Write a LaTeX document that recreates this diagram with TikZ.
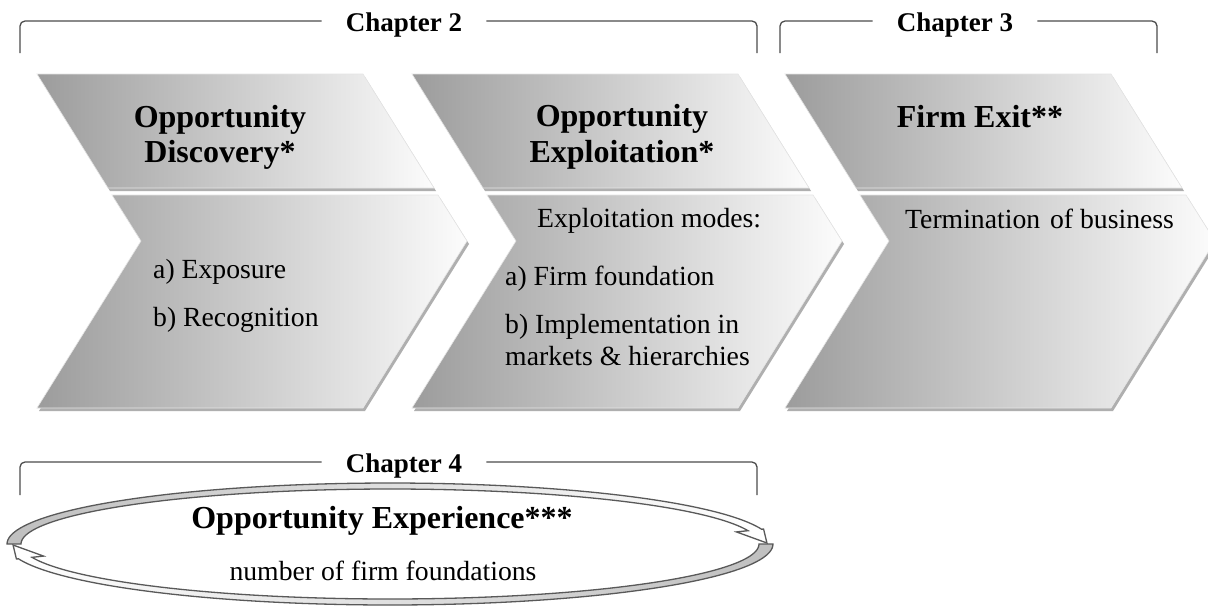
\documentclass[tikz,border=0pt]{standalone}
\usepackage{fontspec}
\setmainfont{Liberation Serif}
\definecolor{gL}{RGB}{156,156,156}
\definecolor{gR}{RGB}{252,252,252}
\definecolor{shd}{RGB}{175,175,175}
\tikzset{
  hdr/.style={font=\fontsize{32}{36}\selectfont\bfseries, anchor=base, inner sep=0pt},
  bodytxt/.style={font=\fontsize{27.7}{32}\selectfont, anchor=base west, inner sep=0pt},
  ctrtxt/.style={font=\fontsize{27.7}{32}\selectfont, anchor=base, inner sep=0pt},
  chap/.style={font=\fontsize{27}{32}\selectfont\bfseries, text height=20pt, text depth=0pt, inner xsep=24pt, inner ysep=0pt},
  brk/.style={draw=black!70, line width=1.3pt, rounded corners=5pt},
  chevfill/.style={left color=gL, right color=gR, draw=gray!20, line width=0.6pt},
  chevshadow/.style={fill=shd, shift={(2,3)}},
  arrA/.style={left color=gray!50, right color=white, draw=black!65, line width=1.3pt},
  arrB/.style={left color=white, right color=gray!50, draw=black!65, line width=1.3pt},
}
\newcommand\mychevron[1]{%
  \path[chevshadow] (#1,74) -- ({#1+326},74) -- ({#1+397},188) -- ({#1+71},188) -- cycle;
  \path[chevshadow] ({#1+75},195) -- ({#1+401},195) -- ({#1+430},241) -- ({#1+326},408) -- (#1,408) -- ({#1+104},241) -- cycle;
  \path[chevfill] (#1,74) -- ({#1+326},74) -- ({#1+397},188) -- ({#1+71},188) -- cycle;
  \path[chevfill] ({#1+75},195) -- ({#1+401},195) -- ({#1+430},241) -- ({#1+326},408) -- (#1,408) -- ({#1+104},241) -- cycle;
}
\begin{document}
\begin{tikzpicture}[x=1pt,y=-1pt]
\useasboundingbox (0,0) rectangle (1208,606);
\clip (0,0) rectangle (1208,606);
\fill[white] (0,0) rectangle (1208,606);

% chevrons
\mychevron{37}
\mychevron{412}
\mychevron{785}

% chapter brackets
\node[chap] (c2) at (404,21) {Chapter 2};
\coordinate (c2l) at (20,53);
\coordinate (c2r) at (757,53);
\draw[brk] (c2.west) -| (c2l);
\draw[brk] (c2.east) -| (c2r);

\node[chap] (c3) at (955,21) {Chapter 3};
\coordinate (c3l) at (780,53);
\coordinate (c3r) at (1157,53);
\draw[brk] (c3.west) -| (c3l);
\draw[brk] (c3.east) -| (c3r);

\node[chap] (c4) at (404,462) {Chapter 4};
\coordinate (c4l) at (20,495);
\coordinate (c4r) at (757,495);
\draw[brk] (c4.west) -| (c4l);
\draw[brk] (c4.east) -| (c4r);

% header texts
\node[hdr] (t1a) at (220,127) {Opportunity};
\node[hdr] (t1b) at (220,162) {Discovery*};
\node[hdr] (t2a) at (622,126) {Opportunity};
\node[hdr] (t2b) at (622,162) {Exploitation*};
\node[hdr] (t3a) at (980,127) {Firm Exit**};

% body texts
\node[bodytxt] (b1a) at (153,278) {a) Exposure};
\node[bodytxt] (b1b) at (153,326) {b) Recognition};
\node[bodytxt] (b2a) at (537,227) {Exploitation modes:};
\node[bodytxt] (b2b) at (505,285) {a) Firm foundation};
\node[bodytxt] (b2c) at (505,333) {b) Implementation in};
\node[bodytxt] (b2d) at (505,365) {markets \& hierarchies};
\node[bodytxt] (b3a) at (905,228) {Termination\hspace{3pt} of business};

% circular arrows (outer ellipse 383x61, inner 369x55, centre 390,544)
\path[arrB] plot[domain=0:-166,samples=90] ({390+383*cos(\x)},{544-61*sin(\x)})
  -- ({390+385*cos(-166)},{544-62*sin(-166)})
  -- ({390+377*cos(-179)},{544-58*sin(-179)})
  -- ({390+357*cos(-166)},{544-50*sin(-166)})
  -- ({390+369*cos(-166)},{544-55*sin(-166)})
  -- plot[domain=-166:0,samples=90] ({390+369*cos(\x)},{544-55*sin(\x)}) -- cycle;
\path[arrA] plot[domain=180:14,samples=90] ({390+383*cos(\x)},{544-61*sin(\x)})
  -- ({390+385*cos(14)},{544-62*sin(14)})
  -- ({390+377*cos(1)},{544-58*sin(1)})
  -- ({390+357*cos(14)},{544-50*sin(14)})
  -- ({390+369*cos(14)},{544-55*sin(14)})
  -- plot[domain=14:180,samples=90] ({390+369*cos(\x)},{544-55*sin(\x)}) -- cycle;

\node[hdr] (e1) at (382,528) {Opportunity Experience***};
\node[ctrtxt] (e2) at (383,580) {number of firm foundations};
\end{tikzpicture}
\end{document}
